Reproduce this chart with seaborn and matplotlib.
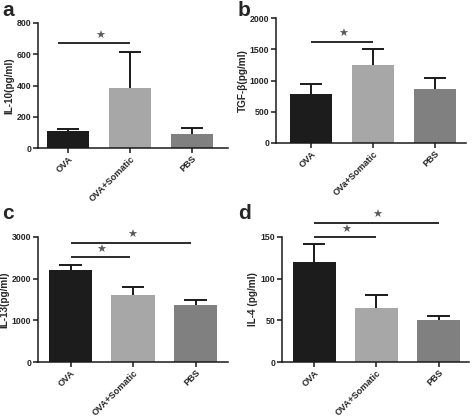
import matplotlib
matplotlib.use("Agg")
import matplotlib.pyplot as plt
import seaborn as sns
import pandas as pd

sns.set_theme(style="ticks")
plt.rcParams['font.family'] = ['Liberation Sans', 'DejaVu Sans']
plt.rcParams['font.weight'] = 'bold'

groups = ["OVA", "OVA+Somatic", "PBS"]
groups_b = ["OVA", "OVa+Somatic", "PBS"]
colors = ["#1c1c1c", "#a7a7a7", "#808080"]

il10 = [108, 385, 90]
il10_err = [12, 232, 37]
tgf = [790, 1250, 860]
tgf_err = [160, 250, 180]
il13 = [2220, 1600, 1360]
il13_err = [110, 210, 130]
il4 = [120, 65, 51]
il4_err = [22, 16, 4]

W, H = 472, 417
fig = plt.figure(figsize=(W / 100, H / 100), dpi=100)


def px_axes(left, right, top, bottom):
    return fig.add_axes([left / W, 1 - bottom / H, (right - left) / W, (bottom - top) / H])


panels = [
    dict(box=(38, 228, 23, 148), cats=groups, vals=il10, errs=il10_err, ymax=800, yticks=[0, 200, 400, 600, 800],
         ylabel="IL-10(pg/ml)", xlim=(-0.484, 2.58), letter="a", lpos=(2, 16),
         sig=[(-0.16, 1, 672)]),
    dict(box=(276, 466, 18, 143), cats=groups_b, vals=tgf, errs=tgf_err, ymax=2000, yticks=[0, 500, 1000, 1500, 2000],
         ylabel="TGF-β(pg/ml)", xlim=(-0.565, 2.5), letter="b", lpos=(238, 16),
         sig=[(0, 1, 1620)]),
    dict(box=(38, 228, 237, 362), cats=groups, vals=il13, errs=il13_err, ymax=3000, yticks=[0, 1000, 2000, 3000],
         ylabel="IL-13(pg/ml)", xlim=(-0.52, 2.52), letter="c", lpos=(2, 219),
         sig=[(0, 0.95, 2520), (0, 1.93, 2860)]),
    dict(box=(282, 469, 237, 362), cats=groups, vals=il4, errs=il4_err, ymax=150, yticks=[0, 50, 100, 150],
         ylabel="IL-4 (pg/ml)", xlim=(-0.52, 2.49), letter="d", lpos=(238, 219),
         sig=[(0, 1, 150), (0, 2, 167)]),
]

for p in panels:
    ax = px_axes(*p["box"])
    df = pd.DataFrame({"group": p["cats"], "value": p["vals"]})
    sns.barplot(data=df, x="group", y="value", hue="group", palette=colors, width=0.69,
                legend=False, ax=ax, saturation=1, edgecolor="none", linewidth=0, zorder=2)
    # upper-only error bars with cap
    xs = list(range(3))
    tops = [v + e for v, e in zip(p["vals"], p["errs"])]
    ax.vlines(xs, p["vals"], tops, color="#1a1a1a", lw=1.4, zorder=1.5)
    ax.hlines(tops, [x - 0.18 for x in xs], [x + 0.18 for x in xs], color="#1a1a1a", lw=1.4, zorder=1.5)
    ax.set_xlim(*p["xlim"])
    ax.set_ylim(0, p["ymax"])
    ax.set_yticks(p["yticks"])
    ax.set_xlabel("")
    ax.set_ylabel(p["ylabel"], fontsize=7.2, fontweight="bold", labelpad=1.5)
    for s in ["top", "right"]:
        ax.spines[s].set_visible(False)
    for s in ["left", "bottom"]:
        ax.spines[s].set_linewidth(1.1)
        ax.spines[s].set_color("#1a1a1a")
    ax.tick_params(axis="both", width=1.1, length=3.5, color="#1a1a1a", pad=1.5)
    ax.tick_params(axis="x", pad=1)
    ax.tick_params(axis="y", labelsize=6.3)
    ax.tick_params(axis="x", labelsize=6.6)
    for lab in ax.get_yticklabels():
        lab.set_fontweight("bold")
    for lab in ax.get_xticklabels():
        lab.set_fontweight("bold")
        lab.set_rotation(45)
        lab.set_ha("right")
        lab.set_rotation_mode("anchor")
    ymax = p["ymax"]
    for (i, j, y) in p["sig"]:
        ax.plot([i, j], [y, y], color="#2a2a2a", lw=1.4, clip_on=False, solid_capstyle="butt")
        ax.text((max(i, 0) + j) / 2 + 0.02, y + ymax * 0.02, "★", ha="center", va="bottom", fontsize=8,
                color="#5a5a5a", family=["DejaVu Sans"], clip_on=False)
    fig.text(p["lpos"][0] / W, 1 - p["lpos"][1] / H, p["letter"], fontsize=15, fontweight="bold",
             ha="left", va="baseline")

fig.savefig("out.png", dpi=100)
